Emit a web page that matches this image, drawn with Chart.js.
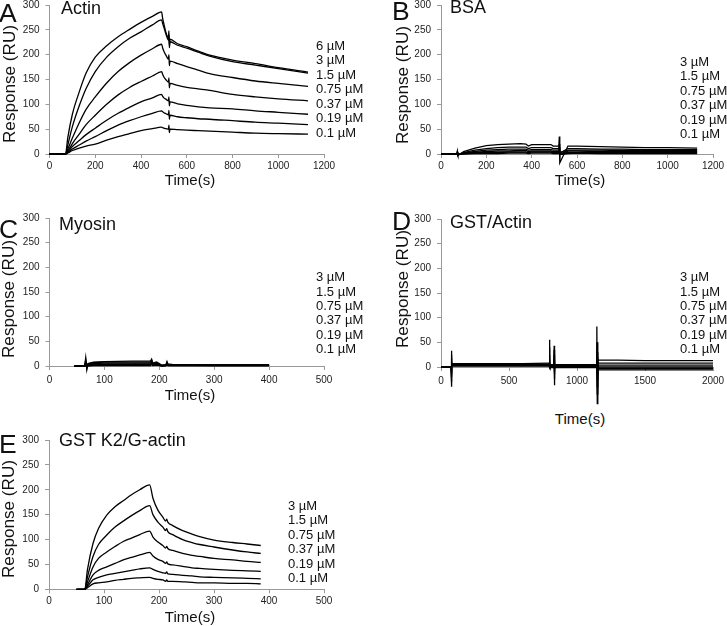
<!DOCTYPE html>
<html>
<head>
<meta charset="utf-8">
<script src="https://cdn.jsdelivr.net/npm/chart.js@4.4.1/dist/chart.umd.min.js"></script>
<style>
  body { margin: 0; background: #fff; width: 727px; height: 626px; position: relative; overflow: hidden;
         font-family: "Liberation Sans", Arial, sans-serif; color: #111; }
  .panel { position: absolute; }
  .txt { position: absolute; white-space: nowrap; line-height: 1; }
  .conc { position: absolute; white-space: nowrap; font-size: 13px; }
  .ytitle { position: absolute; width: 160px; height: 16px; line-height: 16px; font-size: 16px;
            text-align: center; white-space: nowrap; transform: rotate(-90deg) scaleX(1.07); }
  .xtitle { position: absolute; width: 100px; font-size: 15px; line-height: 1; text-align: center; }
</style>
</head>
<body>
<script>
// ---- data ----
const yTicks = [0, 50, 100, 150, 200, 250, 300];

// A: Actin
const concA = ["6 µM", "3 µM", "1.5 µM", "0.75 µM", "0.37 µM", "0.19 µM", "0.1 µM"];
const tA = [0, 40, 70, 80, 100, 130, 160, 200, 250, 300, 350, 400, 450, 490, 495, 500, 510, 520, 522, 524, 527, 560, 600, 650, 700, 800, 900, 1000, 1130];
const a6 = [0, 0, 0, 33, 80, 125, 163, 195, 218, 236, 251, 265, 277, 286, 272, 262, 243, 234, 248, 218, 231, 222, 216, 207, 199, 189, 182, 174, 165];
const a3 = [0, 0, 0, 18, 55, 97, 132, 166, 195, 216, 233, 246, 260, 270, 262, 255, 240, 229, 240, 214, 226, 219, 213, 205, 197, 186, 179, 172, 163];
const a15 = [0, 0, 0, 10, 32, 63, 90, 115, 143, 166, 184, 199, 212, 221, 213, 207, 198, 191, 200, 178, 187, 182, 176, 169, 162, 154, 147, 142, 136];
const a075 = [0, 0, 0, 6, 21, 40, 59, 78, 100, 119, 134, 146, 157, 166, 160, 155, 149, 145, 153, 133, 142, 138, 134, 131, 128, 120, 115, 111, 107];
const a037 = [0, 0, 0, 4, 15, 27, 39, 52, 68, 82, 94, 105, 113, 120, 116, 113, 110, 107, 115, 97, 105, 101, 98, 95, 93, 91, 87, 84, 80];
const a019 = [0, 0, 0, 3, 10, 18, 26, 35, 47, 58, 67, 75, 82, 87, 85, 83, 81, 79, 88, 70, 78, 75, 73, 71, 70, 67, 64, 62, 59];
const a01 = [0, 0, 0, 2, 7, 12, 16, 20, 28, 35, 41, 47, 51, 54, 53, 52, 51, 50, 58, 43, 50, 49, 48, 47, 46, 44, 42, 41, 40];

// B: BSA
const concB = ["3 µM", "1.5 µM", "0.75 µM", "0.37 µM", "0.19 µM", "0.1 µM"];
const tB = [0, 70, 72, 74, 100, 150, 200, 250, 300, 350, 375, 385, 400, 450, 485, 495, 520, 522, 524, 560, 600, 700, 800, 900, 1000, 1130];
const b3 = [0, 0, 5, -3, 5, 12, 17, 19, 20, 21, 20, 16, 19, 19, 19, 16, 16, 35, -18, 16, 16, 15, 14, 13, 13, 12];
const b15 = [0, 0, 4, -2, 3, 8, 11, 13, 14, 14, 14, 11, 13, 13, 13, 11, 11, 20, 2, 11, 11, 10, 10, 9, 9, 9];
const b075 = [0, 0, 3, -1, 2, 5, 8, 9, 10, 10, 10, 8, 9, 9, 9, 8, 8, 14, 3, 8, 8, 8, 7, 7, 7, 7];
const b037 = [0, 0, 2, -1, 1, 3, 5, 6, 6, 7, 7, 5, 6, 6, 6, 5, 5, 10, 0, 6, 6, 5, 5, 5, 5, 5];
const b019 = [0, 0, 1, 0, 1, 2, 3, 3, 4, 4, 4, 3, 4, 4, 4, 3, 3, 6, 0, 3, 3, 3, 3, 3, 3, 3];
const b01 = [0, 0, 1, 0, 0, 1, 1, 1, 2, 2, 2, 1, 2, 2, 2, 1, 1, 3, -1, 1, 2, 1, 1, 1, 1, 1];

// C: Myosin
const tC = [45, 64, 66, 68, 70, 80, 100, 150, 184, 186, 188, 195, 200, 205, 212, 214, 216, 220, 230, 300, 400];
const c3 = [0, 0, 17, -7, 5, 8, 9, 10, 10, 14, 6, 8, 5, 1, 2, 9, 3, 3, 2, 2, 2];
const c15 = [0, 0, 12, -5, 4, 7, 8, 8, 8, 12, 5, 6, 4, 1, 2, 7, 3, 3, 2, 2, 2];
const c075 = [0, 0, 8, -3, 3, 5, 6, 6, 6, 9, 4, 5, 3, 1, 2, 5, 2, 2, 2, 2, 2];
const c037 = [0, 0, 5, -2, 2, 4, 4, 4, 4, 7, 3, 4, 3, 1, 1, 4, 2, 2, 2, 1, 1];
const c019 = [0, 0, 3, -1, 1, 2, 3, 3, 3, 5, 2, 3, 2, 0, 1, 3, 1, 1, 1, 1, 1];
const c01 = [0, 0, 2, -1, 0, 1, 1, 1, 1, 3, 1, 2, 1, 0, 1, 2, 1, 1, 1, 1, 1];

// D: GST/Actin
const tD = [0, 74, 76, 78, 80, 200, 400, 600, 790, 795, 797, 799, 801, 830, 832, 834, 836, 900, 1000, 1140, 1145, 1147, 1149, 1152, 1154, 1156, 1160, 1300, 1500, 1700, 2000];
const d3 = [0, 0, 33, -40, 7, 7, 7, 7, 8, 8, 55, 5, 5, 5, 43, -37, 5, 5, 5, 5, 5, 82, -74, 50, 14, 14, 14, 14, 13, 13, 13];
const d15 = [0, 0, 25, -30, 6, 6, 6, 6, 6, 6, 40, 4, 3, 3, 35, -25, 3, 3, 3, 3, 3, 50, -55, 30, 8, 8, 8, 8, 8, 8, 8];
const d075 = [0, 0, 18, -20, 5, 5, 5, 5, 5, 5, 25, 3, 2, 2, 25, -15, 2, 2, 2, 2, 2, 35, -40, 20, 4, 4, 4, 4, 4, 4, 4];
const d037 = [0, 0, 12, -12, 4, 4, 4, 4, 4, 4, 15, 2, 1, 1, 15, -10, 1, 1, 1, 1, 1, 25, -25, 12, 0, 0, 0, 0, 0, 0, 0];
const d019 = [0, 0, 8, -8, 3, 3, 3, 3, 3, 3, 10, 1, 0, 0, 10, -5, 0, 0, 0, 0, 0, 15, -15, 8, -3, -3, -3, -3, -3, -3, -3];
const d01 = [0, 0, 5, -5, 2, 2, 2, 2, 2, 2, 6, 0, -1, -1, 6, -3, -1, -1, -1, -1, -1, 10, -10, 5, -6, -6, -6, -6, -6, -6, -6];

// E: GST K2/G-actin
const tE = [50, 65, 70, 80, 90, 105, 120, 135, 150, 165, 183, 189, 198, 207, 212, 214, 216, 225, 243, 260, 274, 300, 334, 360, 385];
const e3 = [0, 0, 40, 92, 122, 149, 166, 178, 190, 200, 210, 183, 159, 145, 137, 141, 135, 128, 118, 111, 106, 99, 94, 91, 88];
const e15 = [0, 0, 25, 66, 90, 109, 125, 137, 148, 158, 168, 150, 135, 125, 118, 122, 116, 110, 100, 94, 90, 85, 79, 75, 72];
const e075 = [0, 0, 15, 45, 62, 75, 86, 96, 103, 110, 117, 105, 95, 88, 83, 86, 82, 78, 72, 68, 66, 62, 59, 56, 54];
const e037 = [0, 0, 9, 29, 38, 45, 52, 59, 64, 69, 74, 67, 60, 56, 52, 55, 51, 49, 46, 43, 42, 40, 38, 37, 36];
const e019 = [0, 0, 6, 19, 24, 29, 32, 35, 38, 41, 43, 40, 36, 33, 32, 35, 31, 30, 28, 27, 25, 24, 23, 22, 21];
const e01 = [0, 0, 3, 11, 13, 15, 18, 20, 22, 23, 24, 22, 20, 19, 16, 19, 16, 16, 15, 14, 13, 13, 12, 12, 11];

// ---- drawing ----
Chart.defaults.font.family = "'Liberation Sans', Arial, sans-serif";
Chart.defaults.color = "#222";

function makePanel(box, area, xMax, xStep, xPad, times, series, smooth) {
  const div = document.createElement("div");
  div.className = "panel";
  div.style.left = box.x + "px";
  div.style.top = box.y + "px";
  const canvas = document.createElement("canvas");
  canvas.width = box.w;
  canvas.height = box.h;
  div.appendChild(canvas);
  document.body.appendChild(div);

  new Chart(canvas.getContext("2d"), {
    type: "line",
    data: {
      datasets: series.map((vals) => ({
        data: times.map((t, i) => ({ x: t, y: vals[i] })),
        borderColor: "#000",
        borderWidth: 1.3,
        pointRadius: 0,
        fill: false,
        clip: false,
        cubicInterpolationMode: smooth ? "monotone" : "default",
      })),
    },
    options: {
      responsive: false,
      animation: false,
      events: [],
      layout: { padding: { left: 0, top: area.top, right: box.w - area.right, bottom: 0 } },
      plugins: { legend: { display: false }, tooltip: { enabled: false } },
      scales: {
        x: {
          type: "linear",
          min: 0,
          max: xMax,
          ticks: {
            stepSize: xStep,
            font: { size: 10 },
            padding: xPad,
            maxRotation: 0,
            callback: (v) => String(v),
          },
          grid: { drawOnChartArea: false, tickLength: 4, color: "#999" },
          border: { color: "#999" },
          afterFit: (s) => {
            s.height = box.h - area.bottom;
            s.paddingLeft = 0;
            s.paddingRight = 0;
          },
        },
        y: {
          min: 0,
          max: 300,
          afterBuildTicks: (s) => {
            s.ticks = yTicks.map((v) => ({ value: v }));
          },
          ticks: { font: { size: 10 }, padding: 6, callback: (v) => String(v) },
          grid: { drawOnChartArea: false, tickLength: 4, color: "#999" },
          border: { color: "#999" },
          afterFit: (s) => {
            s.width = area.left;
            s.paddingTop = 0;
            s.paddingBottom = 0;
          },
        },
      },
    },
  });
}

makePanel({ x: 0, y: 0, w: 364, h: 200 }, { left: 49.5, top: 5, right: 324, bottom: 154 },
  1200, 200, 2, tA, [a6, a3, a15, a075, a037, a019, a01], true);
makePanel({ x: 364, y: 0, w: 363, h: 200 }, { left: 77, top: 5, right: 349, bottom: 154 },
  1200, 200, 2, tB, [b3, b15, b075, b037, b019, b01], false);
makePanel({ x: 0, y: 200, w: 364, h: 210 }, { left: 49.5, top: 18, right: 324, bottom: 166 },
  500, 100, 4, tC, [c3, c15, c075, c037, c019, c01], false);
makePanel({ x: 364, y: 200, w: 363, h: 210 }, { left: 77, top: 19, right: 349, bottom: 167 },
  2000, 500, 4.5, tD, [d3, d15, d075, d037, d019, d01], false);
makePanel({ x: 0, y: 420, w: 364, h: 206 }, { left: 49, top: 20, right: 324, bottom: 169.3 },
  500, 100, 2, tE, [e3, e15, e075, e037, e019, e01], true);

// ---- text ----
function addText(cls, text, left, top, size) {
  const el = document.createElement("div");
  el.className = cls;
  el.textContent = text;
  el.style.left = left + "px";
  el.style.top = top + "px";
  if (size) el.style.fontSize = size + "px";
  document.body.appendChild(el);
  return el;
}
function addConc(list, left, top, step) {
  const el = addText("conc", "", left, top);
  el.style.lineHeight = step + "px";
  el.innerHTML = list.join("<br>");
}
function addYTitle(cx, cy) {
  addText("ytitle", "Response (RU)", cx - 80, cy - 8);
}
function addXTitle(cx, top) {
  addText("xtitle", "Time(s)", cx - 50, top);
}

// panel letters
addText("txt", "A", -1, -0.5, 26.5);
addText("txt", "B", 392, -1.7, 26.5);
addText("txt", "C", -1, 215.5, 26.5);
addText("txt", "D", 392, 207.5, 26.5);
addText("txt", "E", -1, 430.5, 26.5);

// sample names
addText("txt", "Actin", 61, -1.2, 18);
addText("txt", "BSA", 450, -1.9, 18);
addText("txt", "Myosin", 59, 214.5, 18);
addText("txt", "GST/Actin", 450, 212.8, 18);
addText("txt", "GST K2/G-actin", 59, 430.8, 18);

// concentration lists
addConc(concA, 316, 38.5, 14.6);
addConc(concB, 680, 54.5, 14.5);
addConc(concB, 316, 270.2, 14.4);
addConc(concB, 680, 270.2, 14.4);
addConc(concB, 288, 498.8, 14.5);

// axis titles
addYTitle(9.5, 84);
addYTitle(403, 85);
addYTitle(8.5, 299);
addYTitle(403, 289);
addYTitle(8.5, 519);
addXTitle(190, 172);
addXTitle(580, 172);
addXTitle(190, 387);
addXTitle(580, 411);
addXTitle(190, 609);
</script>
</body>
</html>
